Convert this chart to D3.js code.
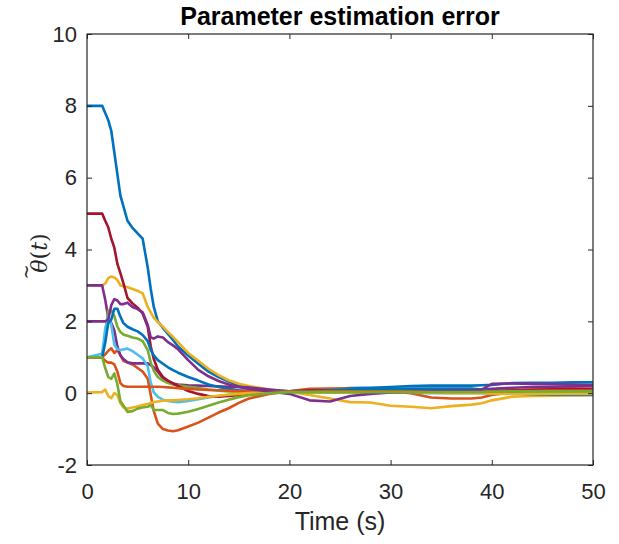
<!DOCTYPE html>
<html>
<head>
<meta charset="utf-8">
<script src="https://cdn.jsdelivr.net/npm/d3@7"></script>
<style>
  body { margin: 0; background: #fff; }
  svg { display: block; }
</style>
</head>
<body>
<script>
// time grid (s), shared by every parameter error trace
const time = [0, 1.5, 1.8, 2.1, 2.4, 2.7, 3.0, 3.3, 3.6, 4.0, 4.5, 5.0, 5.5, 6.0, 6.3, 6.6, 7.0, 7.5, 8, 8.5, 9, 10, 11, 12, 13, 14, 15, 16, 18, 20, 22, 24, 26, 28, 30, 32, 34, 36, 38, 39, 40, 42, 44, 46, 48, 50];

const blueA = [8, 8, 7.8, 7.6, 7.3, 6.7, 6.1, 5.5, 5.2, 4.8, 4.6, 4.45, 4.3, 3.5, 2.9, 2.4, 2.0, 1.82, 1.65, 1.48, 1.3, 1.05, 0.82, 0.6, 0.45, 0.32, 0.22, 0.15, 0.07, 0.05, 0.08, 0.11, 0.14, 0.15, 0.17, 0.2, 0.21, 0.21, 0.21, 0.22, 0.23, 0.28, 0.29, 0.29, 0.3, 0.3];
const orangeA = [1, 1, 1.08, 1.18, 1.25, 1.12, 1.2, 1.06, 0.9, 0.85, 0.8, 0.7, 0.6, 0.4, -0.05, -0.5, -0.85, -1.0, -1.04, -1.06, -1.03, -0.93, -0.82, -0.68, -0.54, -0.42, -0.27, -0.15, -0.02, 0.05, 0.12, 0.13, 0.12, 0.08, 0.05, 0.0, -0.12, -0.15, -0.15, -0.12, -0.05, 0.02, 0.05, 0.06, 0.07, 0.07];
const yellowA = [3, 3, 3.05, 3.2, 3.25, 3.22, 3.15, 3.0, 2.98, 2.95, 2.9, 2.85, 2.78, 2.4, 2.25, 2.1, 1.98, 1.85, 1.7, 1.57, 1.42, 1.12, 0.9, 0.68, 0.5, 0.36, 0.26, 0.2, 0.1, 0.04, -0.05, -0.15, -0.25, -0.26, -0.35, -0.38, -0.42, -0.36, -0.32, -0.28, -0.2, -0.1, -0.08, -0.07, -0.06, -0.05];
const purpleA = [3, 3, 2.6, 2.1, 1.95, 1.75, 1.3, 1.05, 0.95, 0.86, 0.83, 0.83, 0.83, 0.83, 0.78, 0.72, 0.6, 0.42, 0.32, 0.27, 0.24, 0.22, 0.21, 0.2, 0.19, 0.18, 0.17, 0.16, 0.1, 0.05, 0.06, 0.07, 0.07, 0.07, 0.07, 0.08, 0.08, 0.08, 0.09, 0.1, 0.12, 0.15, 0.17, 0.18, 0.19, 0.2];
const greenA = [1, 1, 1.6, 2.3, 2.3, 2.15, 1.85, 1.7, 1.63, 1.6, 1.55, 1.52, 1.45, 1.2, 0.85, 0.62, 0.45, 0.35, 0.28, 0.24, 0.22, 0.18, 0.14, 0.1, 0.07, 0.05, 0.04, 0.03, 0.03, 0.03, 0.02, 0.02, 0.02, 0.02, 0.02, 0.02, 0.02, 0.02, 0.02, 0.03, 0.04, 0.05, 0.05, 0.05, 0.05, 0.05];
const lightBlue = [1, 1.1, 1.8, 2.15, 1.9, 1.35, 1.22, 1.2, 1.22, 1.24, 1.17, 1.07, 0.97, 0.75, 0.3, 0.02, -0.1, -0.18, -0.22, -0.24, -0.25, -0.22, -0.17, -0.12, -0.08, -0.05, -0.03, -0.01, 0.02, 0.03, 0.03, 0.02, 0.02, 0.02, 0.01, 0.01, 0.0, 0.0, 0.0, 0.0, -0.01, -0.02, -0.02, -0.02, -0.02, -0.02];
const darkRed = [5, 5, 4.8, 4.62, 4.3, 4.05, 3.6, 3.34, 3.06, 2.65, 2.5, 2.38, 2.22, 1.85, 1.3, 0.95, 0.65, 0.45, 0.35, 0.27, 0.2, 0.06, -0.02, -0.08, -0.1, -0.08, -0.05, -0.02, 0.02, 0.05, 0.07, 0.08, 0.08, 0.07, 0.06, 0.06, 0.05, 0.03, 0.02, 0.03, 0.05, 0.08, 0.1, 0.11, 0.12, 0.12];
const blueB = [1, 1, 1.4, 1.95, 2.05, 2.35, 2.35, 2.13, 1.95, 1.85, 1.78, 1.72, 1.62, 1.45, 1.2, 1.05, 0.92, 0.82, 0.72, 0.64, 0.57, 0.45, 0.35, 0.24, 0.17, 0.12, 0.08, 0.06, 0.04, 0.04, 0.05, 0.08, 0.1, 0.12, 0.12, 0.13, 0.13, 0.13, 0.13, 0.1, 0.05, 0.0, -0.03, -0.04, -0.05, -0.05];
const orangeB = [1, 1, 0.9, 0.85, 0.85, 0.8, 0.6, 0.28, 0.2, 0.18, 0.18, 0.18, 0.18, 0.18, 0.18, 0.18, 0.18, 0.17, 0.16, 0.15, 0.14, 0.12, 0.1, 0.09, 0.08, 0.07, 0.06, 0.05, 0.04, 0.04, 0.04, 0.05, 0.05, 0.05, 0.05, 0.05, 0.05, 0.05, 0.05, 0.05, 0.05, 0.06, 0.06, 0.07, 0.07, 0.07];
const yellowB = [0.02, 0.03, 0.1, -0.08, -0.14, 0.0, -0.05, -0.28, -0.4, -0.43, -0.4, -0.37, -0.33, -0.3, -0.27, -0.25, -0.23, -0.21, -0.2, -0.2, -0.19, -0.17, -0.14, -0.1, -0.07, -0.04, -0.02, 0.0, 0.02, 0.03, 0.02, 0.02, 0.02, 0.02, 0.02, 0.01, 0.01, 0.0, 0.0, 0.0, -0.01, -0.02, -0.02, -0.02, -0.02, -0.02];
const purpleB = [2, 2, 2.0, 2.05, 2.45, 2.62, 2.58, 2.48, 2.48, 2.52, 2.4, 2.34, 2.25, 1.9, 1.55, 1.52, 1.58, 1.55, 1.42, 1.33, 1.22, 0.92, 0.65, 0.47, 0.34, 0.24, 0.17, 0.12, 0.05, -0.02, -0.2, -0.23, -0.08, -0.02, 0.02, 0.03, 0.05, 0.06, 0.07, 0.1, 0.26, 0.27, 0.26, 0.25, 0.24, 0.22];
const greenB = [1, 1, 0.7, 0.45, 0.4, 0.55, 0.25, -0.22, -0.35, -0.52, -0.5, -0.43, -0.4, -0.38, -0.33, -0.47, -0.47, -0.47, -0.55, -0.58, -0.57, -0.52, -0.44, -0.35, -0.26, -0.18, -0.11, -0.06, 0.0, 0.03, 0.03, 0.03, 0.03, 0.03, 0.03, 0.03, 0.03, 0.03, 0.03, 0.03, 0.04, 0.05, 0.05, 0.05, 0.05, 0.05];

// drawing order follows the MATLAB colour cycle
const series = [blueA, orangeA, yellowA, purpleA, greenA, lightBlue, darkRed, blueB, orangeB, yellowB, purpleB, greenB];
const colors = ["#0072BD", "#D95319", "#EDB120", "#7E2F8E", "#77AC30", "#4DBEEE", "#A2142F"];

const xTicks = [0, 10, 20, 30, 40, 50];
const yTicks = [-2, 0, 2, 4, 6, 8, 10];

const width = 619, height = 544;
const mLeft = 87, mRight = 593, mTop = 34, mBottom = 465;
const font = "'Liberation Sans', Arial, Helvetica, sans-serif";

const svg = d3.select("body")
            .append("svg")
            .attr("width", width)
            .attr("height", height);

const x = d3.scaleLinear().domain([0, 50]).range([mLeft, mRight]);
const y = d3.scaleLinear().domain([-2, 10]).range([mBottom, mTop]);

// lines
const line = d3.line()
    .x(function(d, i) { return x(time[i]); })
    .y(function(d) { return y(d); });

svg.append("g")
    .selectAll("path")
    .data(series)
    .enter().append("path")
    .attr("d", line)
    .attr("fill", "none")
    .attr("stroke", function(d, i) { return colors[i % colors.length]; })
    .attr("stroke-width", 2.6)
    .attr("stroke-linejoin", "round");

// axes with inward ticks, box on
function styleAxis(g) {
    g.select(".domain").remove();
    g.selectAll("line").attr("stroke", "#262626");
    g.selectAll("text").attr("fill", "#262626").attr("font-family", font).attr("font-size", "22px");
}

// plain hyphen for negatives, like MATLAB
const plain = function(d) { return String(d); };

svg.append("g")
    .attr("transform", "translate(0," + mBottom + ")")
    .call(d3.axisBottom(x).tickValues(xTicks).tickFormat(plain).tickSizeInner(-5).tickSizeOuter(0).tickPadding(18))
    .call(styleAxis);

svg.append("g")
    .attr("transform", "translate(0," + mTop + ")")
    .call(d3.axisTop(x).tickValues(xTicks).tickSizeInner(-5).tickSizeOuter(0).tickFormat(""))
    .call(styleAxis);

svg.append("g")
    .attr("transform", "translate(" + mLeft + ",0)")
    .call(d3.axisLeft(y).tickValues(yTicks).tickFormat(plain).tickSizeInner(-5).tickSizeOuter(0).tickPadding(10))
    .call(styleAxis);

svg.append("g")
    .attr("transform", "translate(" + mRight + ",0)")
    .call(d3.axisRight(y).tickValues(yTicks).tickSizeInner(-5).tickSizeOuter(0).tickFormat(""))
    .call(styleAxis);

svg.append("rect")
    .attr("x", mLeft)
    .attr("y", mTop)
    .attr("width", mRight - mLeft)
    .attr("height", mBottom - mTop)
    .attr("fill", "none")
    .attr("stroke", "#262626")
    .attr("stroke-width", 1.2);

// title and labels
svg.append("text")
    .attr("x", (mLeft + mRight) / 2)
    .attr("y", 25)
    .attr("text-anchor", "middle")
    .attr("font-family", font)
    .attr("font-weight", "bold")
    .attr("font-size", "25px")
    .attr("fill", "#000")
    .text("Parameter estimation error");

svg.append("text")
    .attr("x", (mLeft + mRight) / 2)
    .attr("y", 530)
    .attr("text-anchor", "middle")
    .attr("font-family", font)
    .attr("font-size", "25px")
    .attr("fill", "#262626")
    .text("Time (s)");

// y label: theta with tilde, drawn in a rotated group
const ylab = svg.append("g")
    .attr("transform", "translate(47,253) rotate(-90)");

const ytext = ylab.append("text")
    .attr("text-anchor", "middle")
    .attr("font-family", "'DejaVu Serif', 'Liberation Serif', serif")
    .attr("font-size", "22px")
    .attr("fill", "#262626");
ytext.append("tspan").attr("font-style", "italic").text("θ");
ytext.append("tspan").text("(");
ytext.append("tspan").attr("font-style", "italic").text("t");
ytext.append("tspan").text(")");

ylab.append("text")
    .attr("x", -19)
    .attr("y", -15)
    .attr("text-anchor", "middle")
    .attr("font-family", "'DejaVu Serif', 'Liberation Serif', serif")
    .attr("font-size", "18px")
    .attr("fill", "#262626")
    .text("~");
</script>
</body>
</html>
